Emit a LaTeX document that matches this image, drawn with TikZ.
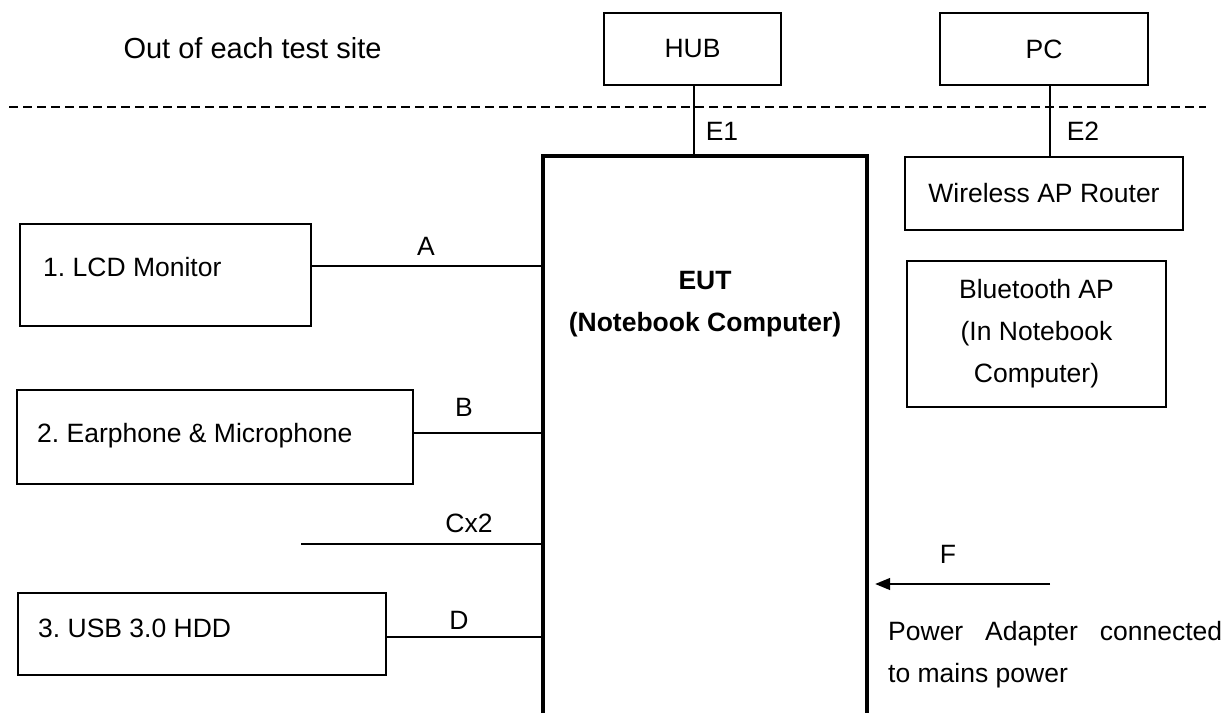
\documentclass[tikz,border=0pt]{standalone}
\usepackage{fontspec}
\setmainfont{Liberation Sans}
\usetikzlibrary{arrows.meta}
\begin{document}
\frenchspacing
\begin{tikzpicture}[x=1pt,y=-1pt,
  every node/.style={font=\fontsize{26.5}{42}\selectfont, inner sep=0pt},
  box/.style={draw, line width=1.8pt, rectangle},
  wire/.style={line width=1.4pt},
  eutline/.style={line width=3.5pt},
  lbl/.style={anchor=base},
  lefttext/.style={anchor=base west}
]
\useasboundingbox[fill=white] (0,0) rectangle (1227,713);

% title and boundary
\node[anchor=base, font=\fontsize{29}{35}\selectfont] (title) at (252.5,58) {Out of each test site};
\coordinate (dl) at (9,107);
\coordinate (dr) at (1206,107);
\draw[wire, dash pattern=on 9pt off 5pt] (dl) -- (dr);

% top boxes
\node[box, minimum width=177pt, minimum height=72pt] (hub) at (692.5,49) {HUB};
\node[box, minimum width=208pt, minimum height=72pt] (pc) at (1044,49) {PC};
\node[box, minimum width=278pt, minimum height=73pt] (wifi) at (1044,193.5) {Wireless AP Router};
\node[box, minimum width=259pt, minimum height=146pt, align=center] (bt) at (1036.5,334) {Bluetooth AP\\(In Notebook\\Computer)};

% EUT
\node[minimum width=324pt, minimum height=557pt] (eut) at (705,434.5) {};
\draw[eutline] (eut.south west) -- (eut.north west) -- (eut.north east) -- (eut.south east);
\node[font=\bfseries\fontsize{26.5}{42}\selectfont, align=center] (euttext) at (705,304.5) {EUT\\(Notebook Computer)};

% left devices
\node[box, minimum width=291pt, minimum height=102pt] (lcd) at (165.5,275) {};
\node[lefttext] (lcdt) at (43,276) {1. LCD Monitor};
\node[box, minimum width=396pt, minimum height=94pt] (ear) at (215,437) {};
\node[lefttext] (eart) at (37,442) {2. Earphone \& Microphone};
\node[box, minimum width=368pt, minimum height=82pt] (usb) at (202,634) {};
\node[lefttext] (usbt) at (38,637) {3. USB 3.0 HDD};

% connectors
\draw[wire] ([yshift=9pt]lcd.east) coordinate (a1) -- (a1 -| eut.west);
\draw[wire] ([yshift=4pt]ear.east) coordinate (b1) -- (b1 -| eut.west);
\coordinate (c1) at (301,544);
\draw[wire] (c1) -- (c1 -| eut.west);
\draw[wire] ([yshift=-3pt]usb.east) coordinate (d1) -- (d1 -| eut.west);
\draw[wire] ([xshift=1.5pt]hub.south) coordinate (e1) -- (e1 |- eut.north);
\draw[wire] ([xshift=6pt]pc.south) coordinate (e2) -- (e2 |- wifi.north);
\coordinate (fs) at (1050,584);
\draw[wire, shorten >=8pt, -{Triangle[length=15pt,width=12pt]}] (fs) -- (fs -| eut.east);

% labels
\node[lbl] (la) at (426,255.5) {A};
\node[lbl] (lb) at (464,416.5) {B};
\node[lbl] (lc) at (469,532.5) {Cx2};
\node[lbl] (ld) at (459,629.5) {D};
\node[lbl] (le1) at (722,140.5) {E1};
\node[lbl] (le2) at (1083,140.5) {E2};
\node[lbl] (lf) at (948,563.5) {F};
\node[anchor=base west, align=left] (pw) at (888,682) {\makebox[334pt][s]{Power Adapter connected}\\to mains power};
\end{tikzpicture}
\end{document}
